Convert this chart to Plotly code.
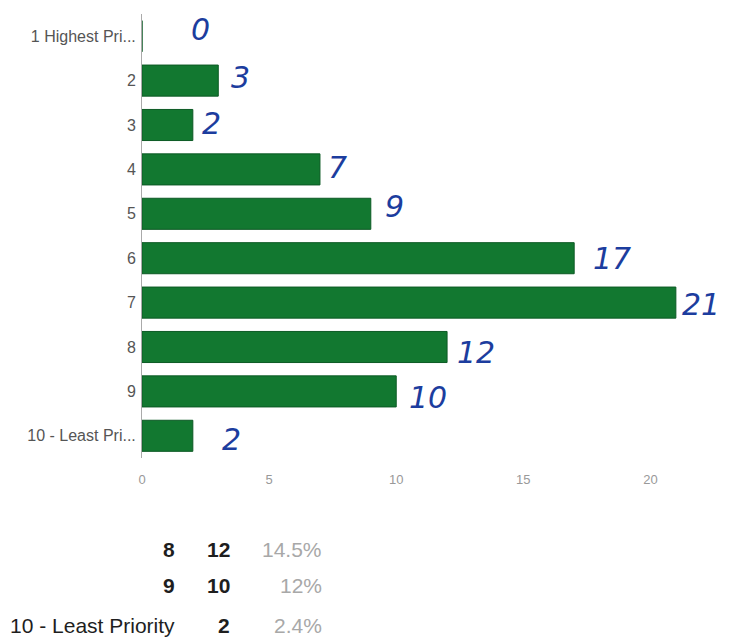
import plotly.graph_objects as go

categories = ["1 Highest Pri...", "2", "3", "4", "5", "6", "7", "8", "9", "10 - Least Pri..."]
counts = [0, 3, 2, 7, 9, 17, 21, 12, 10, 2]
handwritten = ["0", "3", "2", "7", "9", "17", "21", "12", "10", "2"]
hand_dx = [58, 22, 19, 18, 24, 38, 25, 29, 32, 39]
hand_dy = [7, 3, 2, 2, 7, 0, -2, -5, -6, -4]

table_labels = ["8", "9", "10 - Least Priority"]
table_counts = ["12", "10", "2"]
table_pcts = ["14.5%", "12%", "2.4%"]

W, H = 730, 642
L, R, T, B = 134, 24, 6, 192
pw, ph = W - L - R, H - T - B
OFF = 8  # page body margin


def px_to_paper(x, y):
    x -= OFF
    y -= OFF
    return (x - L) / pw, 1 - (y - T) / ph


fig = go.Figure()
fig.add_trace(go.Bar(
    y=categories, x=counts, orientation="h",
    marker=dict(color="#127830", line=dict(color="#0c5a24", width=1)),
    width=0.70, showlegend=False,
))

for i, (v, t, dx, dy) in enumerate(zip(counts, handwritten, hand_dx, hand_dy)):
    fig.add_annotation(x=v, y=i, text=t, showarrow=False, xanchor="center",
                       yanchor="middle", xshift=dx, yshift=dy,
                       font=dict(family="DejaVu Sans", size=30, color="#1c3d9e", style="italic"))

row_y = [549, 585, 625]
for lab, cnt, pct, yy in zip(table_labels, table_counts, table_pcts, row_y):
    lab_txt = lab if len(lab) > 3 else "<b>%s</b>" % lab
    for xx, txt, col in [(177, lab_txt, "#1e1e1e"), (232, "<b>%s</b>" % cnt, "#1e1e1e"),
                         (324, pct, "#a8a8a8")]:
        xp, yp = px_to_paper(xx, yy)
        fig.add_annotation(x=xp, y=yp, xref="paper", yref="paper", text=txt,
                           showarrow=False, xanchor="right", yanchor="middle",
                           font=dict(family="Arial", size=21, color=col))

fig.update_layout(
    width=W, height=H,
    margin=dict(l=L, r=R, t=T, b=B),
    paper_bgcolor="white", plot_bgcolor="white",
    xaxis=dict(range=[0, 22.5], tickvals=[0, 5, 10, 15, 20], showgrid=False,
               zeroline=False, showline=False, ticklabelstandoff=12,
               tickfont=dict(family="Arial", size=13, color="#999")),
    yaxis=dict(autorange="reversed", showline=True, linecolor="#aaa", linewidth=1,
               showgrid=False, ticks="", ticklabelstandoff=2,
               tickfont=dict(family="Arial", size=16, color="#555")),
)

fig.write_html("out.html")
